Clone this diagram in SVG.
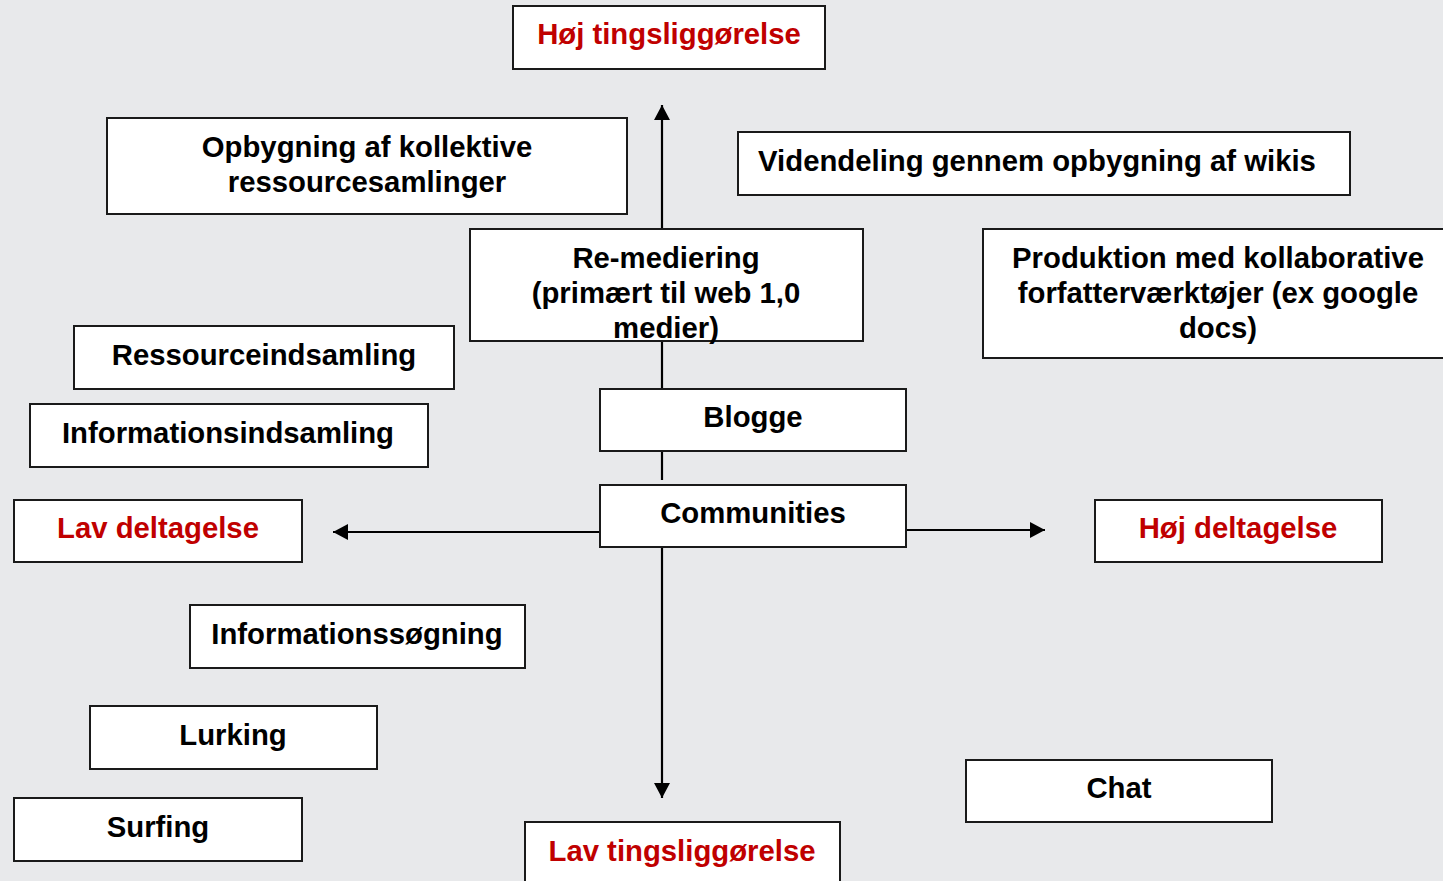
<svg xmlns="http://www.w3.org/2000/svg" width="1443" height="881" viewBox="0 0 1443 881">
  <style>
    .box { fill: #ffffff; stroke: #1a1a1a; stroke-width: 2; }
    .lbl { font-family: "Liberation Sans", Arial, sans-serif; font-weight: bold; font-size: 29.3px; fill: #000000; text-anchor: middle; }
    .red { fill: #c00000; }
    .axis { stroke: #000000; stroke-width: 2.2; fill: none; }
  </style>
  <defs>
    <marker id="head" viewBox="0 0 15 16" refX="15" refY="8" markerWidth="15" markerHeight="16" orient="auto" markerUnits="userSpaceOnUse">
      <path d="M0,0 L15,8 L0,16 z" fill="#000000"/>
    </marker>
  </defs>

  <rect width="1443" height="881" fill="#e8e9eb"/>

  <!-- axes -->
  <g id="connectors">
    <line class="axis" x1="662" y1="480" x2="662" y2="105" marker-end="url(#head)"/>
    <line class="axis" x1="662" y1="547" x2="662" y2="798" marker-end="url(#head)"/>
    <line class="axis" x1="600" y1="532" x2="333" y2="532" marker-end="url(#head)"/>
    <line class="axis" x1="906" y1="530" x2="1045" y2="530" marker-end="url(#head)"/>
  </g>

  <g id="hoej-tingsliggoerelse">
    <rect class="box" x="513" y="6" width="312" height="63"/>
    <text class="lbl red" x="669" y="44">Høj tingsliggørelse</text>
  </g>

  <g id="opbygning">
    <rect class="box" x="107" y="118" width="520" height="96"/>
    <text class="lbl" x="367" y="157">Opbygning af kollektive</text>
    <text class="lbl" x="367" y="192">ressourcesamlinger</text>
  </g>

  <g id="videndeling">
    <rect class="box" x="738" y="132" width="612" height="63"/>
    <text class="lbl" x="1037" y="171">Videndeling gennem opbygning af wikis</text>
  </g>

  <g id="re-mediering">
    <rect class="box" x="470" y="229" width="393" height="112"/>
    <text class="lbl" x="666" y="268">Re-mediering</text>
    <text class="lbl" x="666" y="303">(primært til web 1,0</text>
    <text class="lbl" x="666" y="338">medier)</text>
  </g>

  <g id="produktion">
    <rect class="box" x="983" y="229" width="470" height="129"/>
    <text class="lbl" x="1218" y="268">Produktion med kollaborative</text>
    <text class="lbl" x="1218" y="303">forfatterværktøjer (ex google</text>
    <text class="lbl" x="1218" y="338">docs)</text>
  </g>

  <g id="ressourceindsamling">
    <rect class="box" x="74" y="326" width="380" height="63"/>
    <text class="lbl" x="264" y="365">Ressourceindsamling</text>
  </g>

  <g id="informationsindsamling">
    <rect class="box" x="30" y="404" width="398" height="63"/>
    <text class="lbl" x="228" y="443">Informationsindsamling</text>
  </g>

  <g id="blogge">
    <rect class="box" x="600" y="389" width="306" height="62"/>
    <text class="lbl" x="753" y="427">Blogge</text>
  </g>

  <g id="communities">
    <rect class="box" x="600" y="485" width="306" height="62"/>
    <text class="lbl" x="753" y="523">Communities</text>
  </g>

  <g id="lav-deltagelse">
    <rect class="box" x="14" y="500" width="288" height="62"/>
    <text class="lbl red" x="158" y="538">Lav deltagelse</text>
  </g>

  <g id="hoej-deltagelse">
    <rect class="box" x="1095" y="500" width="287" height="62"/>
    <text class="lbl red" x="1238" y="538">Høj deltagelse</text>
  </g>

  <g id="informationssoegning">
    <rect class="box" x="190" y="605" width="335" height="63"/>
    <text class="lbl" x="357" y="644">Informationssøgning</text>
  </g>

  <g id="lurking">
    <rect class="box" x="90" y="706" width="287" height="63"/>
    <text class="lbl" x="233" y="745">Lurking</text>
  </g>

  <g id="surfing">
    <rect class="box" x="14" y="798" width="288" height="63"/>
    <text class="lbl" x="158" y="837">Surfing</text>
  </g>

  <g id="chat">
    <rect class="box" x="966" y="760" width="306" height="62"/>
    <text class="lbl" x="1119" y="798">Chat</text>
  </g>

  <g id="lav-tingsliggoerelse">
    <rect class="box" x="525" y="822" width="315" height="70"/>
    <text class="lbl red" x="682" y="861">Lav tingsliggørelse</text>
  </g>
</svg>
